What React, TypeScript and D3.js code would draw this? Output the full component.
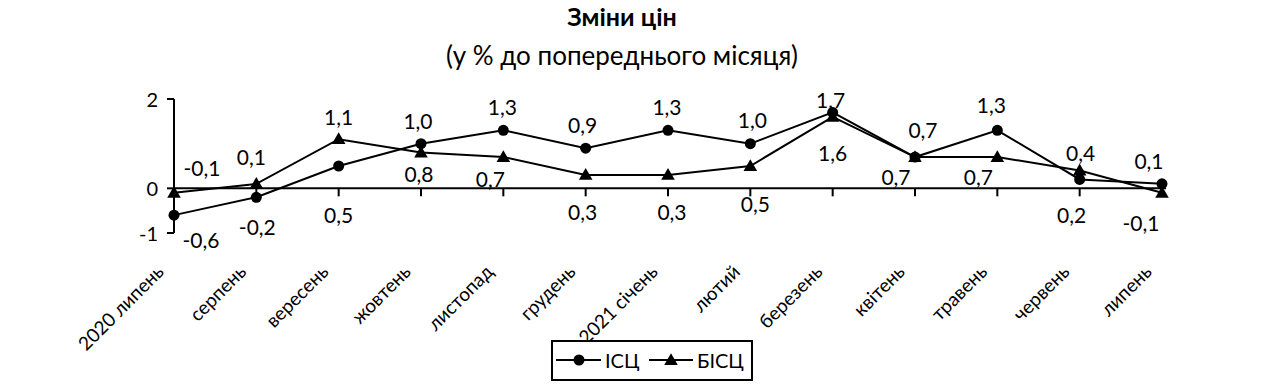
import React from "react";
import * as d3 from "d3";

const categories = [
  "2020 липень", "серпень", "вересень", "жовтень", "листопад", "грудень",
  "2021 січень", "лютий", "березень", "квітень", "травень", "червень", "липень",
];
const isc = [-0.6, -0.2, 0.5, 1.0, 1.3, 0.9, 1.3, 1.0, 1.7, 0.7, 1.3, 0.2, 0.1];
const bisc = [-0.1, 0.1, 1.1, 0.8, 0.7, 0.3, 0.3, 0.5, 1.6, 0.7, 0.7, 0.4, -0.1];
const yTicks = [-1, 0, 2];
const seriesNames = ["ІСЦ", "БІСЦ"];

// label offsets (layout only)
const iscLabelOffsets: [number, number][] = [
  [27, 24], [1, 29], [0, 48], [-3, -23], [-1, -24], [-3, -24], [-1, -24],
  [2, -24], [-2, -13], [8, -28], [-6, -26], [-8, 35], [-13, -23],
];
const biscLabelOffsets: [number, number][] = [
  [28, -25], [-5, -27], [0, -23], [-2, 21], [-13, 21], [-3, 37], [4, 37],
  [5, 37], [0, 36], [-19, 19], [-19, 19], [1, -18], [-21, 30],
];

const FONT = "Lato, Carlito, Calibri, sans-serif";
const fmt = (v: number) => d3.format(".1f")(v).replace(".", ",").replace("−", "-");

export default function App() {
  const width = 1288;
  const height = 389;
  const x = d3.scalePoint<string>().domain(categories).range([174, 1162]);
  const y = d3.scaleLinear().domain([-1, 2]).range([233, 99]);
  const y0 = y(0);

  const line = d3
    .line<number>()
    .x((_, i) => x(categories[i])!)
    .y((d) => y(d));

  const tri = d3.symbol(d3.symbolTriangle, 80);
  const triPath = tri()!;

  return (
    <svg
      width={width}
      height={height}
      style={{ position: "absolute", left: 0, top: 0, background: "#fff" }}
      fontFamily={FONT}
    >
      <rect x={0} y={0} width={width} height={height} fill="#fff" />
      <text x={622} y={26} textAnchor="middle" fontSize={25} fontWeight="bold">
        Зміни цін
      </text>
      <text x={622} y={65} textAnchor="middle" fontSize={26}>
        (у % до попереднього місяця)
      </text>

      {/* y axis */}
      <line x1={x(categories[0])} x2={x(categories[0])} y1={y(2)} y2={y(-1)} stroke="#000" strokeWidth={2} />
      {yTicks.map((t) => (
        <g key={t}>
          <line x1={167} x2={174} y1={y(t)} y2={y(t)} stroke="#000" strokeWidth={2} />
          <text x={158} y={y(t)} textAnchor="end" dominantBaseline="central" fontSize={20}>
            {String(t)}
          </text>
        </g>
      ))}

      {/* x axis */}
      <line x1={174} x2={1166} y1={y0} y2={y0} stroke="#000" strokeWidth={2} />
      {categories.map((c, i) =>
        i === 0 ? null : (
          <line key={c} x1={x(c)} x2={x(c)} y1={y0} y2={y0 + 8} stroke="#000" strokeWidth={2} />
        )
      )}
      {categories.map((c) => (
        <text
          key={c}
          transform={`translate(${x(c)! - 9},${273}) rotate(-45)`}
          textAnchor="end"
          fontSize={19}
        >
          {c}
        </text>
      ))}

      {/* series */}
      <path d={line(isc)!} fill="none" stroke="#000" strokeWidth={2} />
      <path d={line(bisc)!} fill="none" stroke="#000" strokeWidth={2} />
      {isc.map((v, i) => (
        <circle key={"c" + i} cx={x(categories[i])} cy={y(v)} r={5.5} fill="#000" />
      ))}
      {bisc.map((v, i) => (
        <path
          key={"t" + i}
          d={triPath}
          transform={`translate(${x(categories[i])},${y(v) + 1})`}
          fill="#000"
        />
      ))}

      {/* labels */}
      {isc.map((v, i) => (
        <text
          key={"li" + i}
          x={x(categories[i])! + iscLabelOffsets[i][0]}
          y={y(v) + iscLabelOffsets[i][1]}
          textAnchor="middle"
          dominantBaseline="central"
          fontSize={21}
        >
          {fmt(v)}
        </text>
      ))}
      {bisc.map((v, i) => (
        <text
          key={"lb" + i}
          x={x(categories[i])! + biscLabelOffsets[i][0]}
          y={y(v) + biscLabelOffsets[i][1]}
          textAnchor="middle"
          dominantBaseline="central"
          fontSize={21}
        >
          {fmt(v)}
        </text>
      ))}

      {/* legend */}
      <rect x={552} y={341} width={200} height={39} fill="#fff" stroke="#000" strokeWidth={2} />
      <line x1={556} x2={601} y1={360} y2={360} stroke="#000" strokeWidth={2} />
      <circle cx={579} cy={360} r={5.5} fill="#000" />
      <text x={605} y={360} dominantBaseline="central" fontSize={20}>{seriesNames[0]}</text>
      <line x1={649} x2={693} y1={360} y2={360} stroke="#000" strokeWidth={2} />
      <path d={triPath} transform={`translate(671,361)`} fill="#000" />
      <text x={697} y={360} dominantBaseline="central" fontSize={20}>{seriesNames[1]}</text>
    </svg>
  );
}
